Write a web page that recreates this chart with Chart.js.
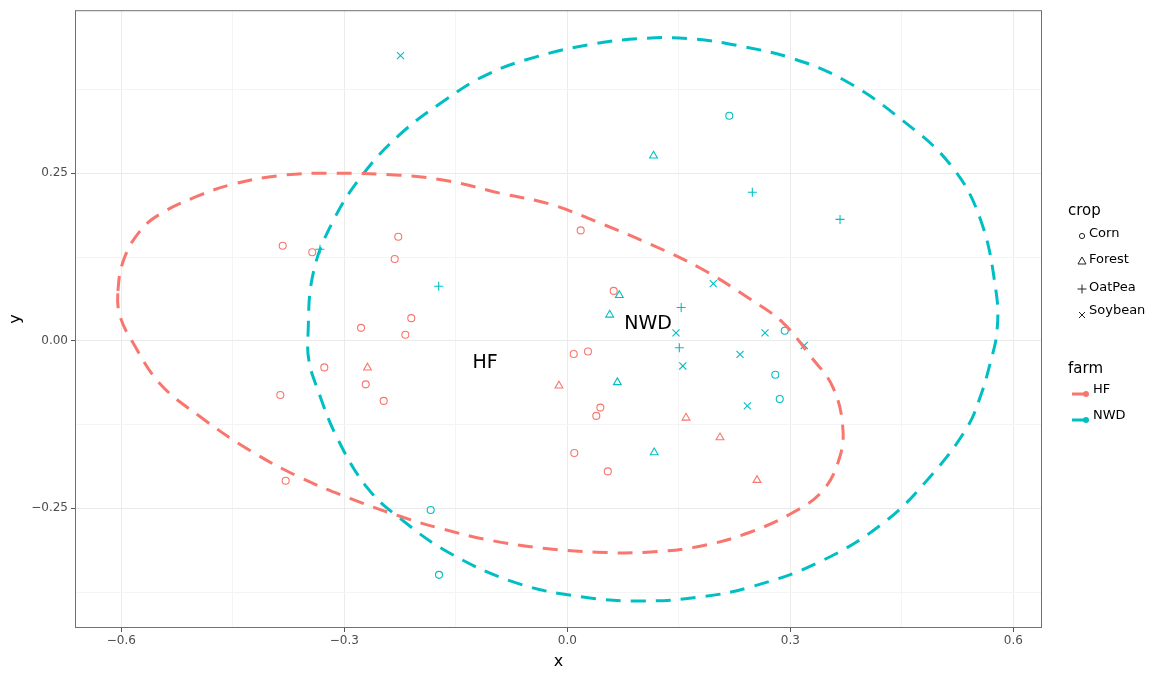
<!DOCTYPE html>
<html>
<head>
<meta charset="utf-8">
<script src="https://cdn.jsdelivr.net/npm/chart.js@4/dist/chart.umd.min.js"></script>
<style>
  body { margin: 0; background: #fff; }
  canvas { display: block; }
</style>
</head>
<body>
<canvas id="ordination" width="1161" height="673"></canvas>
<script>
// axis limits and ticks
const xMin = -0.6623, xMax = 0.6386;
const yMin = -0.4286, yMax = 0.4933;
const xMajor = [-0.6, -0.3, 0, 0.3, 0.6];
const xMinor = [-0.45, -0.15, 0.15, 0.45];
const yMajor = [-0.25, 0, 0.25];
const yMinor = [-0.375, -0.125, 0.125, 0.375];

// points, [x, y]
const hfCorn = [
  [-0.3829, 0.1418], [-0.3431, 0.1320], [-0.2274, 0.1552], [-0.2322, 0.1220],
  [-0.2099, 0.0338], [-0.2775, 0.0193], [-0.2179, 0.0089], [-0.3269, -0.0397],
  [-0.2712, -0.0650], [-0.3861, -0.0808], [-0.2470, -0.0897], [-0.3789, -0.2088],
  [0.0180, 0.1647], [0.0624, 0.0744], [0.0086, -0.0198], [0.0278, -0.0159],
  [0.0444, -0.0997], [0.0390, -0.1121], [0.0094, -0.1674], [0.0545, -0.1949]
];
const hfForest = [
  [-0.2688, -0.0402], [-0.0112, -0.0670], [0.1597, -0.1150], [0.2054, -0.1443], [0.2552, -0.2079]
];
const nwdCorn = [
  [0.2179, 0.3359], [0.2925, 0.0149], [0.2798, -0.0506], [0.2858, -0.0868],
  [-0.1838, -0.2525], [-0.1726, -0.3493]
];
const nwdForest = [
  [0.1160, 0.2760], [0.0700, 0.0680], [0.0570, 0.0387], [0.0673, -0.0621], [0.1169, -0.1667]
];
const nwdOatPea = [
  [-0.3327, 0.1365], [-0.1730, 0.0814], [0.2489, 0.2217], [0.3669, 0.1811],
  [0.1532, 0.0496], [0.1507, -0.0104]
];
const nwdSoybean = [
  [-0.2244, 0.4256], [0.1964, 0.0853], [0.1462, 0.0119], [0.2660, 0.0119],
  [0.3188, -0.0070], [0.2323, -0.0204], [0.1554, -0.0376], [0.2422, -0.0972]
];

// ellipse outlines (closed loops)
const hfEllipse = [
  [-0.6045, 0.0744], [-0.5964, 0.1220], [-0.5749, 0.1637], [-0.5480, 0.1890], [-0.5009, 0.2143],
  [-0.4498, 0.2336], [-0.3825, 0.2470], [-0.3152, 0.2500], [-0.2251, 0.2470], [-0.1579, 0.2381],
  [-0.0906, 0.2202], [-0.0233, 0.2039], [0.0440, 0.1756], [0.1113, 0.1443], [0.1786, 0.1086],
  [0.2458, 0.0625], [0.2902, 0.0268], [0.3266, -0.0223], [0.3575, -0.0699], [0.3709, -0.1339],
  [0.3642, -0.1815], [0.3440, -0.2232], [0.3090, -0.2530], [0.2458, -0.2857], [0.1786, -0.3065],
  [0.1073, -0.3155], [0.0400, -0.3155], [-0.0327, -0.3095], [-0.1040, -0.2976], [-0.1713, -0.2798],
  [-0.2251, -0.2619], [-0.2924, -0.2351], [-0.3596, -0.2039], [-0.4269, -0.1637], [-0.4942, -0.1131],
  [-0.5480, -0.0640], [-0.5843, -0.0030], [-0.6018, 0.0372]
];
const nwdEllipse = [
  [-0.3489, 0.0074], [-0.3421, 0.0997], [-0.3152, 0.1786], [-0.2749, 0.2485], [-0.2251, 0.3080],
  [-0.1672, 0.3571], [-0.1080, 0.3973], [-0.0408, 0.4241], [0.0305, 0.4420], [0.0978, 0.4509],
  [0.1651, 0.4509], [0.2364, 0.4390], [0.3036, 0.4211], [0.3709, 0.3899], [0.4476, 0.3318],
  [0.5149, 0.2634], [0.5552, 0.1830], [0.5767, 0.0744], [0.5781, 0.0149], [0.5687, -0.0342],
  [0.5552, -0.0848], [0.5377, -0.1295], [0.4920, -0.1979], [0.4247, -0.2723], [0.3359, -0.3318],
  [0.2458, -0.3676], [0.1786, -0.3824], [0.0978, -0.3884], [0.0211, -0.3824], [-0.0677, -0.3616],
  [-0.1579, -0.3170], [-0.2251, -0.2649], [-0.2695, -0.2188], [-0.3099, -0.1443], [-0.3368, -0.0699],
  [-0.3476, -0.0298]
];

// group labels in the panel
const farmLabels = [
  { text: 'HF', x: -0.1107, y: -0.0327 },
  { text: 'NWD', x: 0.1086, y: 0.0253 }
];

const RED = '#F8766D';
const TEAL = '#00BFC4';
const FONT = "'DejaVu Sans', sans-serif";

const toXY = arr => arr.map(p => ({ x: p[0], y: p[1] }));

function pointSet(label, arr, color, style, r) {
  return {
    label: label,
    data: toXY(arr),
    pointStyle: style,
    pointRadius: r,
    pointBorderColor: color,
    pointBackgroundColor: 'rgba(0,0,0,0)',
    pointBorderWidth: 1.1,
    showLine: false
  };
}
function ellipseSet(label, arr, color) {
  return {
    type: 'line',
    label: label,
    data: toXY(arr),
    closed: true,
    borderColor: color,
    borderWidth: 3,
    borderDash: [15, 10],
    pointRadius: 0,
    tension: 0.4,
    fill: false
  };
}

// make the ellipse lines join up smoothly
const closeLoops = {
  id: 'closeLoops',
  afterDatasetUpdate(chart, args) {
    if (chart.data.datasets[args.index].closed && args.meta.dataset) {
      args.meta.dataset._loop = true;
      args.meta.dataset._fullLoop = true;
    }
  }
};

// panel border, text labels and the two-part legend
const extras = {
  id: 'extras',
  afterDatasetsDraw(chart) {
    const ctx = chart.ctx;
    const a = chart.chartArea;
    const xs = chart.scales.x, ys = chart.scales.y;
    ctx.save();
    ctx.strokeStyle = '#707070';
    ctx.lineWidth = 1;
    ctx.strokeRect(a.left + 0.5, a.top + 0.5, a.right - a.left - 1, a.bottom - a.top - 1);

    ctx.fillStyle = '#000';
    ctx.font = '19px ' + FONT;
    ctx.textAlign = 'center';
    ctx.textBaseline = 'middle';
    farmLabels.forEach(l => ctx.fillText(l.text, xs.getPixelForValue(l.x), ys.getPixelForValue(l.y)));

    // legend: crop
    ctx.textAlign = 'left';
    ctx.font = '15px ' + FONT;
    ctx.fillText('crop', 1068, 211);
    ctx.font = '13px ' + FONT;
    const crops = [
      { t: 'Corn', y: 234, s: 'circle' },
      { t: 'Forest', y: 260, s: 'triangle' },
      { t: 'OatPea', y: 288, s: 'plus' },
      { t: 'Soybean', y: 311, s: 'x' }
    ];
    ctx.strokeStyle = '#222';
    ctx.lineWidth = 1;
    crops.forEach(c => {
      const cx = 1082, cy = c.y + 1;
      ctx.beginPath();
      if (c.s === 'circle') ctx.arc(cx, cy + 1, 2.6, 0, Math.PI * 2);
      if (c.s === 'triangle') { ctx.moveTo(cx - 4, cy + 3); ctx.lineTo(cx + 4, cy + 3); ctx.lineTo(cx, cy - 4); ctx.closePath(); }
      if (c.s === 'plus') { ctx.moveTo(cx - 4.5, cy); ctx.lineTo(cx + 4.5, cy); ctx.moveTo(cx, cy - 4.5); ctx.lineTo(cx, cy + 4.5); }
      if (c.s === 'x') { ctx.moveTo(cx - 3, cy); ctx.lineTo(cx + 3, cy + 6); ctx.moveTo(cx + 3, cy); ctx.lineTo(cx - 3, cy + 6); }
      ctx.stroke();
      ctx.fillText(c.t, 1089, c.y);
    });

    // legend: farm
    ctx.font = '15px ' + FONT;
    ctx.fillText('farm', 1068, 369);
    ctx.font = '13px ' + FONT;
    [{ t: 'HF', y: 390, c: RED }, { t: 'NWD', y: 416, c: TEAL }].forEach(f => {
      ctx.strokeStyle = f.c;
      ctx.fillStyle = f.c;
      ctx.lineWidth = 3;
      ctx.beginPath();
      ctx.moveTo(1072, f.y + 4);
      ctx.lineTo(1085, f.y + 4);
      ctx.stroke();
      ctx.beginPath();
      ctx.arc(1086, f.y + 4, 3, 0, Math.PI * 2);
      ctx.fill();
      ctx.fillStyle = '#000';
      ctx.fillText(f.t, 1093, f.y);
    });
    ctx.restore();
  }
};

const isMajorX = v => xMajor.some(m => Math.abs(m - v) < 1e-6);
const isMajorY = v => yMajor.some(m => Math.abs(m - v) < 1e-6);

new Chart(document.getElementById('ordination').getContext('2d'), {
  type: 'scatter',
  data: {
    datasets: [
      ellipseSet('HF', hfEllipse, RED),
      ellipseSet('NWD', nwdEllipse, TEAL),
      pointSet('HF Corn', hfCorn, RED, 'circle', 3.5),
      pointSet('HF Forest', hfForest, RED, 'triangle', 4.5),
      pointSet('NWD Corn', nwdCorn, TEAL, 'circle', 3.5),
      pointSet('NWD Forest', nwdForest, TEAL, 'triangle', 4.5),
      pointSet('NWD OatPea', nwdOatPea, TEAL, 'cross', 4.5),
      pointSet('NWD Soybean', nwdSoybean, TEAL, 'crossRot', 5)
    ]
  },
  options: {
    responsive: false,
    animation: false,
    devicePixelRatio: 1,
    layout: { padding: { left: 0, top: 8, right: 119, bottom: 0 } },
    plugins: { legend: { display: false }, tooltip: { enabled: false } },
    scales: {
      x: {
        type: 'linear',
        min: xMin,
        max: xMax,
        afterBuildTicks: s => { s.ticks = xMajor.concat(xMinor).sort((a, b) => a - b).map(v => ({ value: v })); },
        afterFit: s => { s.height = 45; },
        grid: {
          color: c => isMajorX(c.tick.value) ? '#EBEBEB' : '#F4F4F4',
          tickColor: c => isMajorX(c.tick.value) ? '#555' : 'rgba(0,0,0,0)',
          tickLength: 4
        },
        border: { display: false },
        ticks: {
          autoSkip: false,
          maxRotation: 0,
          padding: 2,
          color: '#4D4D4D',
          font: { family: FONT, size: 12 },
          callback: v => isMajorX(v) ? (v < 0 ? '\u2212' : '') + Math.abs(v).toFixed(1) : ''
        },
        title: { display: true, text: 'x', color: '#000', font: { family: FONT, size: 16 }, padding: { top: 0, bottom: 2 } }
      },
      y: {
        type: 'linear',
        min: yMin,
        max: yMax,
        afterBuildTicks: s => { s.ticks = yMajor.concat(yMinor).sort((a, b) => a - b).map(v => ({ value: v })); },
        afterFit: s => { s.width = 75; },
        grid: {
          color: c => isMajorY(c.tick.value) ? '#EBEBEB' : '#F4F4F4',
          tickColor: c => isMajorY(c.tick.value) ? '#555' : 'rgba(0,0,0,0)',
          tickLength: 4
        },
        border: { display: false },
        ticks: {
          autoSkip: false,
          padding: 3,
          color: '#4D4D4D',
          font: { family: FONT, size: 12 },
          callback: v => isMajorY(v) ? (v < 0 ? '\u2212' : '') + Math.abs(v).toFixed(2) : ''
        },
        title: { display: true, text: 'y', color: '#000', font: { family: FONT, size: 16 }, padding: { top: 6, bottom: 0 } }
      }
    }
  },
  plugins: [closeLoops, extras]
});
</script>
</body>
</html>
